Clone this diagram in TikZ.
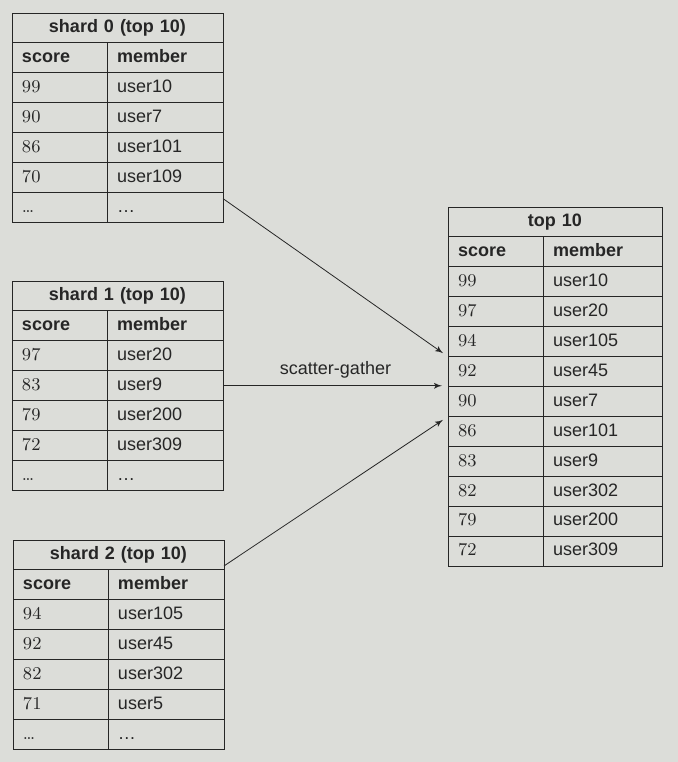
\documentclass[tikz,border=0pt]{standalone}
\usepackage{fontspec}
\setsansfont{Liberation Sans}
\usepackage{xcolor}
\usepackage{tikz}
\usetikzlibrary{arrows,positioning}
\definecolor{paper}{RGB}{220,221,217}
\definecolor{ink}{RGB}{38,38,38}
\tikzstyle{cell} = [rectangle, draw=ink, line width=0.5pt, outer sep=0pt,
    inner xsep=5pt, minimum height=14.8pt, text height=6.5pt, text depth=1.8pt,
    align=left, text=ink, font=\fontsize{9}{11}\selectfont]
\tikzstyle{title} = [cell, text width=95.5pt, align=center,
    font=\sffamily\bfseries\fontsize{9}{11}\selectfont]
\tikzstyle{scorecol} = [cell, text width=37.5pt]
\tikzstyle{membercol} = [cell, text width=48pt,
    font=\sffamily\fontsize{9}{11}\selectfont]
\tikzstyle{head} = [font=\sffamily\bfseries\fontsize{9}{11}\selectfont]
\tikzstyle{line} = [draw=ink, line width=0.4pt, -latex', shorten >=3pt]

\begin{document}
\begin{tikzpicture}[x=0.5pt, y=-0.5pt, node distance=0pt]
    \fill [paper] (0,0) rectangle (678,762);
    \useasboundingbox (0,0) rectangle (678,762);

    % Shard 0
    \node [title, anchor=north west] (s0) at (12,13) {shard 0 (top 10)};
    \node [scorecol, head, below right=0pt of s0.south west] (s0s0) {score};
    \node [membercol, head, right=of s0s0] (s0m0) {member};
    \foreach \sc/\mb [count=\i, remember=\i as \j (initially 0)] in
        {99/user10, 90/user7, 86/user101, 70/user109, \dots/\dots} {
        \node [scorecol, below=of s0s\j] (s0s\i) {\sc};
        \node [membercol, right=of s0s\i] (s0m\i) {\mb};
    }

    % Shard 1
    \node [title, anchor=north west] (s1) at (12,281) {shard 1 (top 10)};
    \node [scorecol, head, below right=0pt of s1.south west] (s1s0) {score};
    \node [membercol, head, right=of s1s0] (s1m0) {member};
    \foreach \sc/\mb [count=\i, remember=\i as \j (initially 0)] in
        {97/user20, 83/user9, 79/user200, 72/user309, \dots/\dots} {
        \node [scorecol, below=of s1s\j] (s1s\i) {\sc};
        \node [membercol, right=of s1s\i] (s1m\i) {\mb};
    }

    % Shard 2
    \node [title, anchor=north west] (s2) at (13,540) {shard 2 (top 10)};
    \node [scorecol, head, below right=0pt of s2.south west] (s2s0) {score};
    \node [membercol, head, right=of s2s0] (s2m0) {member};
    \foreach \sc/\mb [count=\i, remember=\i as \j (initially 0)] in
        {94/user105, 92/user45, 82/user302, 71/user5, \dots/\dots} {
        \node [scorecol, below=of s2s\j] (s2s\i) {\sc};
        \node [membercol, right=of s2s\i] (s2m\i) {\mb};
    }

    % Merged result
    \node [title, anchor=north west, text width=97pt] (top) at (448,207) {top 10};
    \node [scorecol, head, below right=0pt of top.south west] (tops0) {score};
    \node [membercol, head, right=of tops0, text width=49.5pt] (topm0) {member};
    \foreach \sc/\mb [count=\i, remember=\i as \j (initially 0)] in
        {99/user10, 97/user20, 94/user105, 92/user45, 90/user7,
         86/user101, 83/user9, 82/user302, 79/user200, 72/user309} {
        \node [scorecol, below=of tops\j] (tops\i) {\sc};
        \node [membercol, right=of tops\i, text width=49.5pt] (topm\i) {\mb};
    }

    % Draw edges
    \path [line] ([yshift=-3pt]s0m5.north east) -- (tops4.north west);
    \path [line] (s1m2.east) -- (s1m2.east -| tops5.west)
        node [midway, above, text=ink, font=\sffamily\fontsize{9}{11}\selectfont] (sg) {scatter-gather};
    \path [line] ([yshift=2pt]s2.south east) -- (tops6.north west);
\end{tikzpicture}
\end{document}
